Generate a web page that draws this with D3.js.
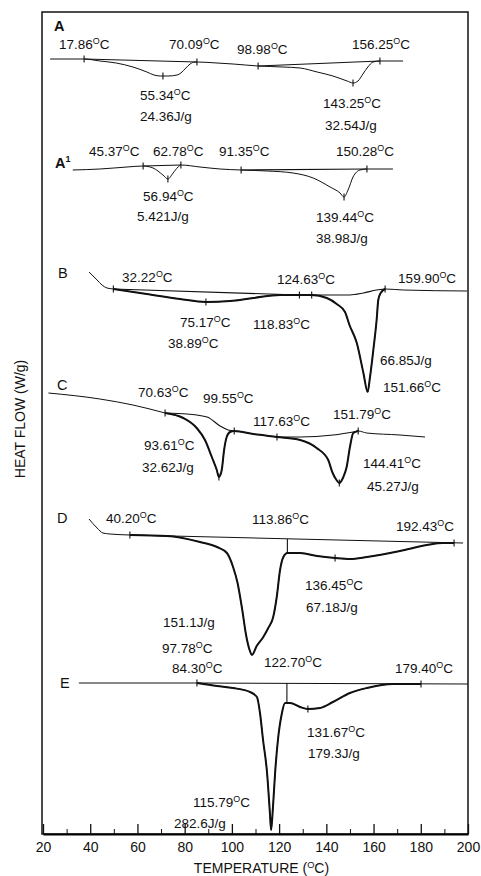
<!DOCTYPE html>
<html>
<head>
<meta charset="utf-8">
<script src="https://cdn.jsdelivr.net/npm/d3@7"></script>
<style>
  body { margin: 0; background: #fff; }
  text { font-family: "Liberation Sans", Arial, Helvetica, sans-serif; fill: #111; }
  .trace { fill: none; stroke: #111; stroke-width: 1; }
  .heavy { fill: none; stroke: #111; stroke-width: 2; }
  .base { fill: none; stroke: #111; stroke-width: 1.1; }
  .mark { stroke: #111; stroke-width: 1.1; }
</style>
</head>
<body>
<div id="chart"></div>
<script>
// temperature axis ticks (deg C)
var xTicks = [20, 40, 60, 80, 100, 120, 140, 160, 180, 200];
var xMinor = [30, 50, 70, 90, 110, 130, 150, 170, 190];

// each trace is shifted vertically by an offset (heat flow, arbitrary zero)
var curveNames = ["A", "A1", "B", "C", "D", "E"];
var curveOffsets = [77.5, 66.4, 54.5, 42.1, 29.9, 15.1];

// [temperature, heat flow relative to offset]
var traceA = [[23.0,0],[37.4,0],[44.1,-0.2],[51,-0.4],[58.1,-0.8],[64,-1.3],[67,-1.6],[69.6,-1.7],[72.9,-1.7],[76.8,-1.6],[78.4,-1.4],[80.5,-0.9],[82.3,-0.5],[84.4,-0.3],[85.2,-0.3],[93.7,-0.4],[100.5,-0.5],[111.1,-0.7],[121.6,-0.8],[128.9,-0.9],[136.1,-1.3],[142.8,-1.7],[148.8,-2.2],[151.3,-2.4],[153.4,-2.2],[155.5,-1.5],[157.6,-0.8],[159.8,-0.3],[162.7,-0.2],[172.5,-0.2]];
var traceA1 = [[32.6,0],[44.1,0.1],[55.6,0.3],[62.4,0.4],[66.6,0.2],[70.8,-0.5],[72.9,-0.9],[75.1,-0.3],[77.2,0.3],[78.4,0.5],[86.5,0.3],[95,0.1],[103.9,0],[115,-0.1],[125.9,-0.3],[134.4,-0.8],[141.6,-1.7],[145.8,-2.3],[147.5,-2.7],[149.2,-2.0],[151.3,-0.7],[154.3,0],[157.2,0.1],[168.2,0.1]];
var traceB = [[39.5,1.7],[42.9,0.9],[45,0.4],[47.1,0.1],[49.8,0],[63.9,-0.5],[78,-1.0],[89,-1.3],[99.2,-1.2],[109.1,-0.9],[120.4,-0.6],[128.6,-0.6],[133.8,-0.6],[140.2,-0.9],[144.4,-1.5],[147.9,-2.3],[149.8,-3.6],[152.9,-5.4],[155.7,-8.4],[157.5,-10.3],[158.5,-8.8],[159.9,-6.1],[161.3,-3.1],[162,-1.1],[163,-0.4],[164.9,0],[172.6,-0.1],[199.6,-0.2]];
var traceC = [[22.3,2.0],[44.1,1.4],[58.1,0.8],[71.7,0],[79.4,-0.5],[85.1,-1.5],[88.6,-2.7],[91.5,-4.4],[93.6,-5.7],[94.5,-6.4],[95.7,-5.7],[96.7,-3.7],[97.8,-2.4],[99.2,-1.9],[101,-1.8],[109.1,-2.1],[119.1,-2.4],[128.9,-2.7],[135.9,-3.5],[140.8,-4.7],[142.5,-5.9],[144.3,-6.7],[145.5,-7.0],[147.2,-6.4],[148.6,-5.4],[150,-3.4],[151.4,-2.0],[153.5,-1.8],[157.1,-2.0],[171.2,-2.2],[181.8,-2.4]];
var traceD = [[39.5,1.6],[42.9,0.7],[45.4,0.2],[48.4,0.1],[56.8,0],[72.5,-0.1],[86.5,-0.7],[93.7,-1.2],[97.9,-1.8],[100.5,-3.2],[102.4,-4.8],[104.4,-7.5],[106,-10.0],[107.5,-11.5],[108.5,-12.0],[110.5,-11.1],[113.3,-10.2],[115.4,-9.3],[117.5,-8.2],[119,-6.2],[120.4,-3.5],[121.8,-2.2],[123.5,-1.8],[128.9,-1.8],[136.1,-2.1],[143.7,-2.3],[150,-2.4],[157.2,-2.2],[171.2,-1.6],[182.6,-1.0],[189.4,-0.8],[194.1,-0.8]];
var traceE = [[35.2,0],[85.2,0],[93.7,-0.3],[100.5,-0.5],[107.7,-0.9],[110.6,-1.4],[111.9,-3.0],[113.2,-5.7],[114.9,-9.0],[116.1,-13.0],[116.6,-14.7],[117.4,-12.4],[118.3,-9.0],[119.5,-5.7],[121.2,-3.0],[122.5,-2.0],[124.6,-2.0],[128.9,-2.4],[132.2,-2.6],[137.3,-2.5],[142.8,-1.9],[150,-1.0],[157.2,-0.5],[168.2,-0.1],[180.1,-0.1]];

// analysed (heavy) temperature range per trace
var heavyRanges = [null, null, [49.8,164.9], [71.7,153.5], [56.8,194.1], [85.2,180.1]];

// integration baselines
var baseA = [[[37.4,0],[85.2,-0.3]], [[111.1,-0.7],[162.7,-0.2]]];
var baseA1 = [[[62.4,0.4],[78.4,0.5]], [[103.9,0],[157.2,0.1]]];
var baseB = [[[49.8,0],[128.6,-0.6]], [[133.8,-0.6],[150,-0.6],[155.7,-0.4],[161.3,-0.1],[164.9,0]]];
var baseC = [[[71.7,0],[81,-0.1],[89.5,-0.4],[95,-1.3],[98.4,-1.7],[101,-1.8]], [[119.1,-2.4],[128.9,-2.4],[142.9,-2.2],[153.5,-1.8]]];
var baseD = [[[56.8,0],[197.9,-0.8]]];
var baseE = [[[85.2,0],[200,-0.1]]];

// cursor marks on the traces
var marksA = [[37.4,0],[70.8,-1.7],[85.2,-0.3],[111.1,-0.7],[151.3,-2.4],[162.7,-0.2]];
var marksA1 = [[62.4,0.4],[72.9,-0.9],[78.4,0.5],[103.9,0],[147.5,-2.7],[157.2,0.1]];
var marksB = [[49.8,0],[89,-1.3],[128.6,-0.6],[133.8,-0.6],[164.9,0]];
var marksC = [[71.7,0],[94.5,-6.4],[101,-1.8],[119.1,-2.4],[145.5,-7.0],[153.5,-1.8]];
var marksD = [[56.8,0],[143.7,-2.3],[194.1,-0.8]];
var marksE = [[85.2,0],[132.2,-2.6],[180.1,-0.1]];

// vertical drop lines [T, from, to]
var dropsD = [[123.5,-0.4,-1.8]];
var dropsE = [[123.3,0,-2.0]];

// annotations [text, T, heat flow relative to offset]
var notesA = [["A",24.7,2.8],["17.86°C",26.8,1.0],["70.09°C",73.4,1.0],["98.98°C",102.2,0.5],["156.25°C",150.9,1.0],["55.34°C",61.1,-4.1],["24.36J/g",61.1,-6.2],["143.25°C",138.6,-4.9],["32.54J/g",139.4,-7.1]];
var notesA1 = [["A¹",25.1,0.2],["45.37°C",39.5,1.4],["62.78°C",66.6,1.4],["91.35°C",94.5,1.4],["150.28°C",144.1,1.4],["56.94°C",62.4,-3.1],["5.421J/g",59.8,-5.1],["139.44°C",135.6,-5.2],["38.98J/g",135.6,-7.3]];
var notesB = [["B",26.4,1.1],["32.22°C",53.5,0.7],["124.63°C",119.1,0.5],["159.90°C",170.4,0.6],["75.17°C",78.0,-3.8],["118.83°C",108.9,-4.0],["38.89°C",72.9,-5.9],["66.85J/g",162.7,-7.6],["151.66°C",164.0,-10.3]];
var notesC = [["C",25.9,2.3],["70.63°C",60.2,1.6],["99.55°C",87.8,1.0],["117.63°C",108.9,-1.3],["151.79°C",142.8,-0.6],["93.61°C",62.8,-3.7],["32.62J/g",61.9,-5.9],["144.41°C",155.5,-5.5],["45.27J/g",157.2,-7.8]];
var notesD = [["D",25.9,1.2],["40.20°C",46.7,1.2],["113.86°C",108.5,1.1],["192.43°C",169.5,0.4],["136.45°C",131.0,-5.5],["67.18J/g",131.4,-7.7],["151.1J/g",70.8,-9.2],["97.78°C",70.4,-11.8]];
var notesE = [["E",27.2,-0.5],["84.30°C",74.6,1.0],["122.70°C",113.6,1.6],["179.40°C",169.1,1.0],["131.67°C",131.8,-5.4],["179.3J/g",132.2,-7.5],["115.79°C",83.5,-12.4],["282.6J/g",75.5,-14.5]];

var traces = [traceA, traceA1, traceB, traceC, traceD, traceE];
var bases = [baseA, baseA1, baseB, baseC, baseD, baseE];
var marks = [marksA, marksA1, marksB, marksC, marksD, marksE];
var drops = [[], [], [], [], dropsD, dropsE];
var notes = [notesA, notesA1, notesB, notesC, notesD, notesE];

// set the dimensions and margins of the graph
var margin = {top: 12, right: 13, bottom: 42, left: 42},
    width = 481 - margin.left - margin.right,
    height = 876 - margin.top - margin.bottom;

var x = d3.scaleLinear().domain([20, 200]).range([1, width]);
var y = d3.scaleLinear().domain([0, 82.2]).range([height, 0]);

var svg = d3.select("#chart").append("svg")
  .attr("width", 481)
  .attr("height", 876)
  .append("g")
  .attr("transform", "translate(" + margin.left + "," + margin.top + ")");

// frame
svg.append("rect")
  .attr("x", 0).attr("y", 0)
  .attr("width", width).attr("height", height)
  .attr("fill", "none").attr("stroke", "#111").attr("stroke-width", 1.5);

// bottom axis, ticks pointing inward
var minorAxis = d3.axisBottom(x).tickValues(xMinor).tickSize(-5).tickFormat("");
svg.append("g").attr("transform", `translate(0, ${height})`).call(minorAxis)
  .call(g => g.select(".domain").remove());

var bottomAxis = d3.axisBottom(x).tickValues(xTicks).tickSize(-10).tickSizeOuter(0).tickPadding(8);
var ax = svg.append("g").attr("transform", `translate(0, ${height})`).call(bottomAxis);
ax.select(".domain").attr("stroke-width", 2.2);
ax.selectAll(".tick line").attr("stroke-width", 1.3);
ax.selectAll(".tick text").attr("font-size", 14).attr("font-family", null);
svg.selectAll(".tick line").attr("stroke", "#111");

// helper for text with a raised "O" degree
function degText(sel, str, size) {
  var parts = str.split("°");
  sel.append("tspan").text(parts[0]);
  if (parts.length > 1) {
    sel.append("tspan").attr("font-size", size * 0.66).attr("dy", -size * 0.38).text("O");
    sel.append("tspan").attr("dy", size * 0.38).text(parts[1]);
  }
}

curveNames.forEach(function(name, i) {
  var off = curveOffsets[i];
  var lineGen = d3.line()
    .x(d => x(d[0]))
    .y(d => y(off + d[1]))
    .curve(d3.curveMonotoneX);
  var g = svg.append("g").attr("class", "curve-" + name);

  g.append("path").datum(traces[i]).attr("class", "trace").attr("d", lineGen);

  if (heavyRanges[i]) {
    var r = heavyRanges[i];
    var part = traces[i].filter(d => d[0] >= r[0] && d[0] <= r[1]);
    g.append("path").datum(part).attr("class", "heavy").attr("d", lineGen);
  }

  bases[i].forEach(function(b) {
    g.append("path").datum(b).attr("class", "base").attr("d", lineGen);
  });

  g.selectAll(".mk").data(marks[i]).enter().append("line")
    .attr("class", "mark")
    .attr("x1", d => x(d[0])).attr("x2", d => x(d[0]))
    .attr("y1", d => y(off + d[1]) - 3.5).attr("y2", d => y(off + d[1]) + 3.5);

  g.selectAll(".dp").data(drops[i]).enter().append("line")
    .attr("class", "mark")
    .attr("stroke-width", 1.5)
    .attr("x1", d => x(d[0])).attr("x2", d => x(d[0]))
    .attr("y1", d => y(off + d[1])).attr("y2", d => y(off + d[2]));

  notes[i].forEach(function(n, k) {
    var t = g.append("text")
      .attr("x", x(n[1]))
      .attr("y", y(off + n[2]));
    if (k === 0) {
      // trace letter
      t.attr("font-size", 14.5).attr("font-weight", i < 2 ? "bold" : "normal");
      if (n[0].indexOf("¹") >= 0) {
        t.append("tspan").text(n[0].replace("¹", ""));
        t.append("tspan").attr("font-size", 9).attr("dy", -6).text("1");
      } else {
        t.text(n[0]);
      }
    } else {
      t.attr("font-size", 13.5);
      degText(t, n[0], 13.5);
    }
  });
});

// axis titles
var xt = svg.append("text")
  .attr("x", (x(20) + x(200)) / 2 + 6)
  .attr("y", height + 39)
  .attr("text-anchor", "middle")
  .attr("font-size", 14);
degText(xt, "TEMPERATURE (°C)", 14);

svg.append("text")
  .attr("transform", `translate(${-17}, 407) rotate(-90)`)
  .attr("text-anchor", "middle")
  .attr("font-size", 14)
  .text("HEAT FLOW (W/g)");
</script>
</body>
</html>
